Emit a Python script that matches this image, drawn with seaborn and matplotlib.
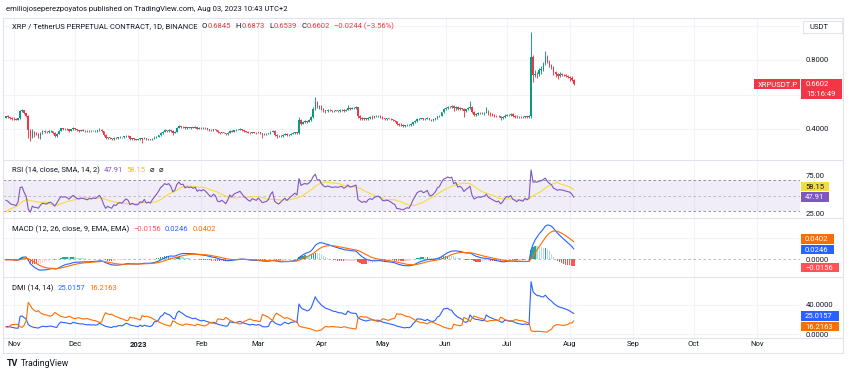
import numpy as np
import pandas as pd
import matplotlib
matplotlib.use("Agg")
import matplotlib.pyplot as plt
import matplotlib.dates as mdates
from matplotlib.patches import Rectangle
from matplotlib.lines import Line2D
import seaborn as sns

# lead-in days before the visible window (off screen, only to warm up the indicators)
lead_start = "2022-10-14"
lead_close = [0.470, 0.466, 0.470, 0.478, 0.464, 0.456, 0.452, 0.458, 0.461, 0.466, 0.452, 0.470, 0.468, 0.466]
lead_high = [0.478, 0.474, 0.474, 0.484, 0.482, 0.468, 0.460, 0.462, 0.466, 0.470, 0.468, 0.474, 0.478, 0.474]
lead_low = [0.462, 0.462, 0.462, 0.468, 0.460, 0.450, 0.446, 0.446, 0.454, 0.458, 0.448, 0.450, 0.462, 0.458]

# visible daily candles XRPUSDT.P, 2022-10-28 .. 2023-08-03 (open = previous close)
close = [
    0.473, 0.470, 0.463, 0.459,
    # nov
    0.458, 0.455, 0.462, 0.505, 0.508, 0.492, 0.478, 0.395, 0.355, 0.385,
    0.372, 0.370, 0.362, 0.377, 0.386, 0.383, 0.380, 0.386, 0.388, 0.378,
    0.360, 0.372, 0.388, 0.403, 0.400, 0.402, 0.398, 0.390, 0.398, 0.406,
    # dec
    0.398, 0.392, 0.390, 0.393, 0.391, 0.389, 0.386, 0.390, 0.388, 0.391,
    0.389, 0.393, 0.397, 0.388, 0.368, 0.347, 0.352, 0.346, 0.342, 0.350,
    0.347, 0.352, 0.354, 0.352, 0.357, 0.362, 0.358, 0.342, 0.345, 0.341, 0.339,
    # jan
    0.340, 0.345, 0.343, 0.349, 0.338, 0.340, 0.337, 0.344, 0.350, 0.356,
    0.364, 0.376, 0.382, 0.392, 0.390, 0.394, 0.389, 0.377, 0.382, 0.405,
    0.418, 0.412, 0.414, 0.405, 0.410, 0.408, 0.410, 0.407, 0.411, 0.402, 0.406,
    # feb
    0.404, 0.408, 0.405, 0.400, 0.395, 0.392, 0.398, 0.394, 0.380, 0.378,
    0.381, 0.377, 0.371, 0.378, 0.390, 0.385, 0.392, 0.395, 0.397, 0.400,
    0.394, 0.388, 0.384, 0.379, 0.376, 0.381, 0.379, 0.377,
    # mar
    0.381, 0.376, 0.370, 0.371, 0.372, 0.375, 0.384, 0.390, 0.368, 0.362,
    0.358, 0.362, 0.366, 0.370, 0.364, 0.368, 0.372, 0.376, 0.380, 0.376,
    0.452, 0.430, 0.440, 0.444, 0.442, 0.452, 0.470, 0.515, 0.555, 0.530, 0.535,
    # apr
    0.518, 0.508, 0.502, 0.510, 0.508, 0.504, 0.506, 0.508, 0.506, 0.510,
    0.512, 0.506, 0.512, 0.524, 0.518, 0.520, 0.524, 0.528, 0.474, 0.466,
    0.458, 0.462, 0.456, 0.466, 0.470, 0.466, 0.474, 0.476, 0.478, 0.472,
    # may
    0.462, 0.460, 0.462, 0.460, 0.456, 0.450, 0.446, 0.428, 0.426, 0.424,
    0.420, 0.422, 0.424, 0.422, 0.428, 0.438, 0.446, 0.456, 0.460, 0.462,
    0.458, 0.460, 0.464, 0.454, 0.452, 0.456, 0.462, 0.474, 0.478, 0.496, 0.514,
    # jun
    0.520, 0.530, 0.528, 0.534, 0.520, 0.528, 0.516, 0.520, 0.516, 0.506,
    0.514, 0.520, 0.528, 0.500, 0.484, 0.488, 0.492, 0.490, 0.492, 0.494,
    0.500, 0.490, 0.486, 0.482, 0.478, 0.474, 0.476, 0.466, 0.470, 0.478,
    # jul
    0.484, 0.482, 0.486, 0.476, 0.472, 0.468, 0.472, 0.470, 0.468, 0.474,
    0.470, 0.474, 0.816, 0.712, 0.718, 0.716, 0.740, 0.746, 0.778, 0.818,
    0.790, 0.772, 0.760, 0.730, 0.720, 0.708, 0.718, 0.714, 0.712, 0.706, 0.702,
    # aug
    0.698, 0.6845, 0.6602,
]
high = [
    0.478, 0.480, 0.472, 0.468,
    0.468, 0.465, 0.466, 0.512, 0.518, 0.512, 0.494, 0.482, 0.402, 0.398,
    0.390, 0.380, 0.375, 0.385, 0.392, 0.392, 0.388, 0.392, 0.394, 0.390,
    0.381, 0.376, 0.395, 0.408, 0.406, 0.407, 0.405, 0.400, 0.402, 0.410,
    0.408, 0.400, 0.396, 0.397, 0.398, 0.394, 0.392, 0.394, 0.393, 0.395,
    0.394, 0.397, 0.403, 0.402, 0.390, 0.370, 0.356, 0.354, 0.350, 0.355,
    0.352, 0.356, 0.358, 0.356, 0.360, 0.366, 0.365, 0.360, 0.349, 0.347, 0.344,
    0.343, 0.348, 0.349, 0.354, 0.350, 0.344, 0.342, 0.347, 0.358, 0.360,
    0.367, 0.380, 0.386, 0.399, 0.396, 0.398, 0.397, 0.394, 0.386, 0.410,
    0.423, 0.420, 0.418, 0.418, 0.413, 0.414, 0.414, 0.412, 0.416, 0.414, 0.409,
    0.410, 0.414, 0.410, 0.407, 0.402, 0.398, 0.402, 0.400, 0.396, 0.384,
    0.384, 0.384, 0.379, 0.382, 0.394, 0.395, 0.396, 0.398, 0.401, 0.404,
    0.402, 0.396, 0.390, 0.387, 0.381, 0.384, 0.384, 0.382,
    0.385, 0.383, 0.378, 0.375, 0.376, 0.378, 0.390, 0.396, 0.392, 0.370,
    0.366, 0.366, 0.372, 0.378, 0.374, 0.372, 0.378, 0.380, 0.384, 0.384,
    0.470, 0.460, 0.446, 0.450, 0.448, 0.458, 0.478, 0.525, 0.585, 0.560, 0.542,
    0.540, 0.520, 0.512, 0.515, 0.516, 0.512, 0.510, 0.512, 0.512, 0.514,
    0.518, 0.516, 0.518, 0.540, 0.528, 0.526, 0.530, 0.534, 0.530, 0.480,
    0.470, 0.466, 0.464, 0.470, 0.474, 0.480, 0.478, 0.480, 0.482, 0.482,
    0.474, 0.466, 0.466, 0.466, 0.462, 0.460, 0.452, 0.448, 0.432, 0.432,
    0.428, 0.426, 0.428, 0.428, 0.432, 0.442, 0.450, 0.462, 0.464, 0.466,
    0.466, 0.464, 0.470, 0.466, 0.458, 0.460, 0.466, 0.478, 0.484, 0.500, 0.520,
    0.528, 0.536, 0.536, 0.540, 0.538, 0.534, 0.532, 0.526, 0.524, 0.520,
    0.518, 0.526, 0.560, 0.532, 0.504, 0.494, 0.496, 0.496, 0.496, 0.500,
    0.530, 0.510, 0.496, 0.490, 0.488, 0.482, 0.482, 0.478, 0.474, 0.486,
    0.488, 0.488, 0.492, 0.490, 0.480, 0.482, 0.476, 0.474, 0.474, 0.478,
    0.478, 0.480, 0.960, 0.830, 0.740, 0.728, 0.752, 0.765, 0.790, 0.850,
    0.830, 0.800, 0.778, 0.766, 0.735, 0.726, 0.730, 0.722, 0.720, 0.718, 0.712,
    0.705, 0.705, 0.6873,
]
low = [
    0.462, 0.466, 0.460, 0.455,
    0.453, 0.450, 0.452, 0.458, 0.498, 0.488, 0.468, 0.345, 0.333, 0.348,
    0.355, 0.363, 0.350, 0.340, 0.372, 0.376, 0.374, 0.378, 0.383, 0.372,
    0.352, 0.356, 0.370, 0.386, 0.394, 0.396, 0.393, 0.384, 0.386, 0.394,
    0.394, 0.388, 0.385, 0.387, 0.387, 0.384, 0.381, 0.383, 0.384, 0.386,
    0.385, 0.383, 0.388, 0.384, 0.362, 0.343, 0.343, 0.342, 0.337, 0.338,
    0.343, 0.344, 0.348, 0.349, 0.349, 0.354, 0.352, 0.338, 0.338, 0.335, 0.335,
    0.336, 0.337, 0.318, 0.340, 0.335, 0.334, 0.334, 0.335, 0.343, 0.348,
    0.352, 0.362, 0.372, 0.380, 0.383, 0.385, 0.384, 0.366, 0.374, 0.380,
    0.403, 0.405, 0.406, 0.400, 0.398, 0.403, 0.402, 0.404, 0.404, 0.398, 0.399,
    0.398, 0.402, 0.401, 0.397, 0.391, 0.388, 0.388, 0.390, 0.375, 0.372,
    0.376, 0.374, 0.366, 0.368, 0.376, 0.382, 0.382, 0.389, 0.392, 0.393,
    0.390, 0.383, 0.380, 0.375, 0.372, 0.374, 0.375, 0.373,
    0.374, 0.372, 0.350, 0.367, 0.368, 0.369, 0.372, 0.380, 0.362, 0.350,
    0.352, 0.354, 0.356, 0.364, 0.358, 0.360, 0.364, 0.369, 0.372, 0.370,
    0.372, 0.425, 0.428, 0.432, 0.434, 0.438, 0.446, 0.466, 0.512, 0.520, 0.515,
    0.512, 0.500, 0.490, 0.498, 0.502, 0.498, 0.500, 0.502, 0.501, 0.500,
    0.505, 0.500, 0.504, 0.510, 0.512, 0.514, 0.516, 0.518, 0.466, 0.455,
    0.450, 0.455, 0.450, 0.452, 0.460, 0.458, 0.464, 0.470, 0.472, 0.466,
    0.456, 0.455, 0.455, 0.456, 0.450, 0.446, 0.442, 0.422, 0.420, 0.415,
    0.413, 0.414, 0.420, 0.418, 0.420, 0.426, 0.434, 0.442, 0.452, 0.456,
    0.454, 0.454, 0.456, 0.450, 0.446, 0.448, 0.452, 0.460, 0.470, 0.476, 0.490,
    0.508, 0.516, 0.522, 0.524, 0.505, 0.510, 0.508, 0.512, 0.508, 0.472,
    0.500, 0.508, 0.514, 0.492, 0.476, 0.478, 0.484, 0.485, 0.486, 0.484,
    0.490, 0.484, 0.478, 0.476, 0.472, 0.468, 0.470, 0.452, 0.460, 0.462,
    0.474, 0.476, 0.478, 0.472, 0.466, 0.462, 0.464, 0.466, 0.464, 0.462,
    0.466, 0.466, 0.466, 0.672, 0.700, 0.696, 0.706, 0.720, 0.738, 0.770,
    0.780, 0.760, 0.748, 0.715, 0.700, 0.690, 0.702, 0.705, 0.706, 0.700, 0.695,
    0.680, 0.676, 0.6539,
]

month_labels = ["Nov", "Dec", "2023", "Feb", "Mar", "Apr", "May", "Jun", "Jul", "Aug", "Sep", "Oct", "Nov"]
header = "emiliojoseperezpoyatos published on TradingView.com, Aug 03, 2023 10:43 UTC+2"
symbol = "XRP / TetherUS PERPETUAL CONTRACT, 1D, BINANCE"
ohlc = [("O", "0.6845"), ("H", "0.6873"), ("L", "0.6539"), ("C", "0.6602")]
change = "\u22120.0244 (\u22123.56%)"
rsi_vals = ["47.91", "58.15"]
macd_vals = ["\u22120.0156", "0.0246", "0.0402"]
dmi_vals = ["25.0157", "16.2163"]

# colours
DARK = "#131722"
UP, DOWN = "#089981", "#F23645"
PURPLE, YELLOW = "#7E57C2", "#F5DC3C"
BLUE, ORANGE = "#2962FF", "#FF6D00"
GRID = "#F0F3FA"
LINE = "#E0E3EB"
FS = 5.5

# ---- indicators ----
c_all = pd.Series(lead_close + close)
h_all = pd.Series(lead_high + high)
l_all = pd.Series(lead_low + low)
dates = pd.date_range(lead_start, periods=len(c_all), freq="D")
o_all = c_all.shift(1).fillna(c_all.iloc[0])

delta = c_all.diff()
avg_gain = delta.clip(lower=0).ewm(alpha=1 / 14, adjust=False).mean()
avg_loss = (-delta).clip(lower=0).ewm(alpha=1 / 14, adjust=False).mean()
rsi = 100 - 100 / (1 + avg_gain / avg_loss)
rsi_ma = rsi.rolling(14, min_periods=1).mean()

macd = c_all.ewm(span=12, adjust=False).mean() - c_all.ewm(span=26, adjust=False).mean()
signal = macd.ewm(span=9, adjust=False).mean()
hist = macd - signal
prev = hist.shift(1)
hist_col = np.where(hist >= 0, np.where(prev < hist, "#26A69A", "#B2DFDB"),
                    np.where(prev < hist, "#FFCDD2", "#FF5252"))

up_move = h_all.diff()
down_move = -l_all.diff()
plus_dm = pd.Series(np.where((up_move > down_move) & (up_move > 0), up_move, 0.0))
minus_dm = pd.Series(np.where((down_move > up_move) & (down_move > 0), down_move, 0.0))
tr = pd.concat([h_all - l_all, (h_all - c_all.shift()).abs(), (l_all - c_all.shift()).abs()], axis=1).max(axis=1)
atr = tr.ewm(alpha=1 / 14, adjust=False).mean()
plus_di = 100 * plus_dm.ewm(alpha=1 / 14, adjust=False).mean() / atr
minus_di = 100 * minus_dm.ewm(alpha=1 / 14, adjust=False).mean() / atr

df = pd.DataFrame({"x": mdates.date2num(dates), "open": o_all, "high": h_all, "low": l_all,
                   "close": c_all, "rsi": rsi, "rsi_ma": rsi_ma, "macd": macd, "signal": signal,
                   "hist": hist, "hist_col": hist_col, "plus": plus_di, "minus": minus_di})
df = df.iloc[len(lead_close):].reset_index(drop=True)

# ---- figure ----
sns.set_theme(style="white")
plt.rcParams["font.family"] = ["Roboto", "DejaVu Sans"]
W, H = 850, 375
fig = plt.figure(figsize=(W / 100, H / 100), dpi=100)
fig.patch.set_facecolor("white")
renderer = fig.canvas.get_renderer()


def fx(x):
    return x / W


def fy(y):
    return 1 - y / H


nov1 = mdates.date2num(pd.Timestamp("2022-11-01"))
xlim = (nov1 - 5.4, nov1 + 386.1)
months = mdates.date2num(pd.date_range("2022-11-01", "2023-11-01", freq="MS"))


def pane(top, bottom, ylim, yticks):
    ax = fig.add_axes([fx(3), fy(bottom), (800 - 3) / W, (bottom - top) / H])
    ax.set_xlim(*xlim)
    ax.set_ylim(*ylim)
    ax.set_xticks(months)
    ax.set_yticks(yticks)
    ax.grid(True, color=GRID, lw=0.8)
    ax.set_axisbelow(True)
    ax.tick_params(length=0, labelbottom=False, labelleft=False)
    for s in ax.spines.values():
        s.set_visible(False)
    ax.set_facecolor("white")
    return ax


ax_p = pane(18, 160, (0.2203, 1.0435), [0.4, 0.6, 0.8, 1.0])
ax_r = pane(160, 218, (13.7, 107.3), [])
ax_m = pane(218, 277, (-0.0421, 0.0983), [0.05])
ax_d = pane(277, 338, (-5.5, 78.6), [0, 40])

# candles
is_up = df["close"] >= df["open"]
ccol = np.where(is_up, UP, DOWN)
ax_p.vlines(df["x"], df["low"], df["high"], colors=ccol, lw=0.65, zorder=2)
body_lo = np.minimum(df["open"], df["close"])
body_h = np.maximum((df["close"] - df["open"]).abs(), 0.0016)
ax_p.bar(df["x"], body_h, bottom=body_lo, width=0.75, color=ccol, lw=0, zorder=3)

# RSI
ax_r.axhspan(25, 75, color=PURPLE, alpha=0.1, lw=0)
for lvl, a in [(75, 0.9), (50, 0.5), (25, 0.9)]:
    ax_r.axhline(lvl, color="#787B86", lw=0.6, ls=(0, (3, 3)), alpha=a)
sns.lineplot(x=df["x"], y=df["rsi_ma"], ax=ax_r, color=YELLOW, lw=0.8)
sns.lineplot(x=df["x"], y=df["rsi"], ax=ax_r, color=PURPLE, lw=0.8)

# MACD
ax_m.axhline(0, color="#787B86", lw=0.6, ls=(0, (3, 3)), alpha=0.6)
ax_m.bar(df["x"], df["hist"], width=0.7, color=df["hist_col"], lw=0, zorder=2)
sns.lineplot(x=df["x"], y=df["macd"], ax=ax_m, color=BLUE, lw=0.8)
sns.lineplot(x=df["x"], y=df["signal"], ax=ax_m, color=ORANGE, lw=0.8)

# DMI
sns.lineplot(x=df["x"], y=df["plus"], ax=ax_d, color=BLUE, lw=0.8)
sns.lineplot(x=df["x"], y=df["minus"], ax=ax_d, color=ORANGE, lw=0.8)

for ax in (ax_p, ax_r, ax_m, ax_d):
    ax.set_xlabel("")
    ax.set_ylabel("")

ax_d.set_xticklabels(month_labels)
ax_d.tick_params(labelbottom=True, pad=2.5, labelsize=FS, labelcolor=DARK)
for t in ax_d.get_xticklabels():
    if t.get_text() == "2023":
        t.set_fontweight("bold")

# frame and pane separators
fig.add_artist(Rectangle((fx(3), fy(353)), (843 - 3) / W, (353 - 18) / H, transform=fig.transFigure,
                         fill=False, ec=LINE, lw=0.8))
for y in (160, 218, 277, 338):
    fig.add_artist(Line2D([fx(3), fx(843)], [fy(y), fy(y)], transform=fig.transFigure, color=LINE, lw=0.8))


def label(x, y, s, color=DARK, size=FS, weight="normal", z=4):
    return fig.text(fx(x), fy(y), s, color=color, fontsize=size, fontweight=weight,
                    ha="left", va="center", zorder=z)


def chain(x, y, pieces):
    # pieces: (text, colour, gap in px before it)
    for s, col, gap in pieces:
        t = label(x + gap, y, s, color=col)
        x = t.get_window_extent(renderer=renderer).x1


def tag(x0, x1, y0, y1, fc, s, tc="white"):
    fig.add_artist(Rectangle((fx(x0), fy(y1)), (x1 - x0) / W, (y1 - y0) / H, transform=fig.transFigure,
                             fc=fc, ec="none", zorder=5))
    label(x0 + 4, (y0 + y1) / 2 + 0.3, s, color=tc, z=6)


# header and legends
label(6, 9, header)
pieces = [(symbol, DARK, 0)]
for k, v in ohlc:
    pieces += [(k, DARK, 4.5), (v, DOWN, 0.3)]
pieces.append((change, DOWN, 4.5))
chain(12, 26, pieces)

chain(12, 170, [("RSI (14, close, SMA, 14, 2)", DARK, 0), (rsi_vals[0], PURPLE, 3.5),
                (rsi_vals[1], "#E2C42A", 3.5), ("\u2300", DARK, 5), ("\u2300", DARK, 4)])
chain(12, 229, [("MACD (12, 26, close, 9, EMA, EMA)", DARK, 0), (macd_vals[0], "#FF5252", 4),
                (macd_vals[1], BLUE, 4), (macd_vals[2], ORANGE, 4)])
chain(12, 288, [("DMI (14, 14)", DARK, 0), (dmi_vals[0], BLUE, 4), (dmi_vals[1], ORANGE, 4)])

# right scale
fig.add_artist(Rectangle((fx(803), fy(33.3)), 39 / W, 12.6 / H, transform=fig.transFigure,
                         fc="white", ec=LINE, lw=0.8, zorder=5))
label(810, 27, "USDT", z=6)
label(806, 60, "0.8000")
label(806, 129, "0.4000")
tag(754, 800, 79.3, 89.3, DOWN, "XRPUSDT.P")
tag(801, 842, 79.3, 98.7, DOWN, "")
label(806, 84.5, "0.6602", color="white", z=6)
label(806, 93.5, "15:16:49", color="white", z=6)

label(806, 176, "75.00")
tag(801, 829, 182, 191, YELLOW, rsi_vals[1], tc=DARK)
tag(801, 829, 192, 201.5, PURPLE, rsi_vals[0])
label(806, 214, "25.00")

tag(801, 834, 234, 243.5, ORANGE, macd_vals[2])
tag(801, 834, 244.5, 254, BLUE, macd_vals[1])
label(806, 259.5, "0.0000")
tag(801, 839, 262.5, 272, "#FF5252", macd_vals[0])

label(806, 305, "40.0000")
tag(801, 839, 311, 320.5, BLUE, dmi_vals[0])
tag(801, 839, 321.5, 331, ORANGE, dmi_vals[1])
label(806, 335, "0.0000")

# footer logo
label(7, 364, "TV", size=6.5, weight="bold")
label(21, 364, "TradingView", size=6.2)

fig.savefig("out.png", dpi=100, facecolor="white")
